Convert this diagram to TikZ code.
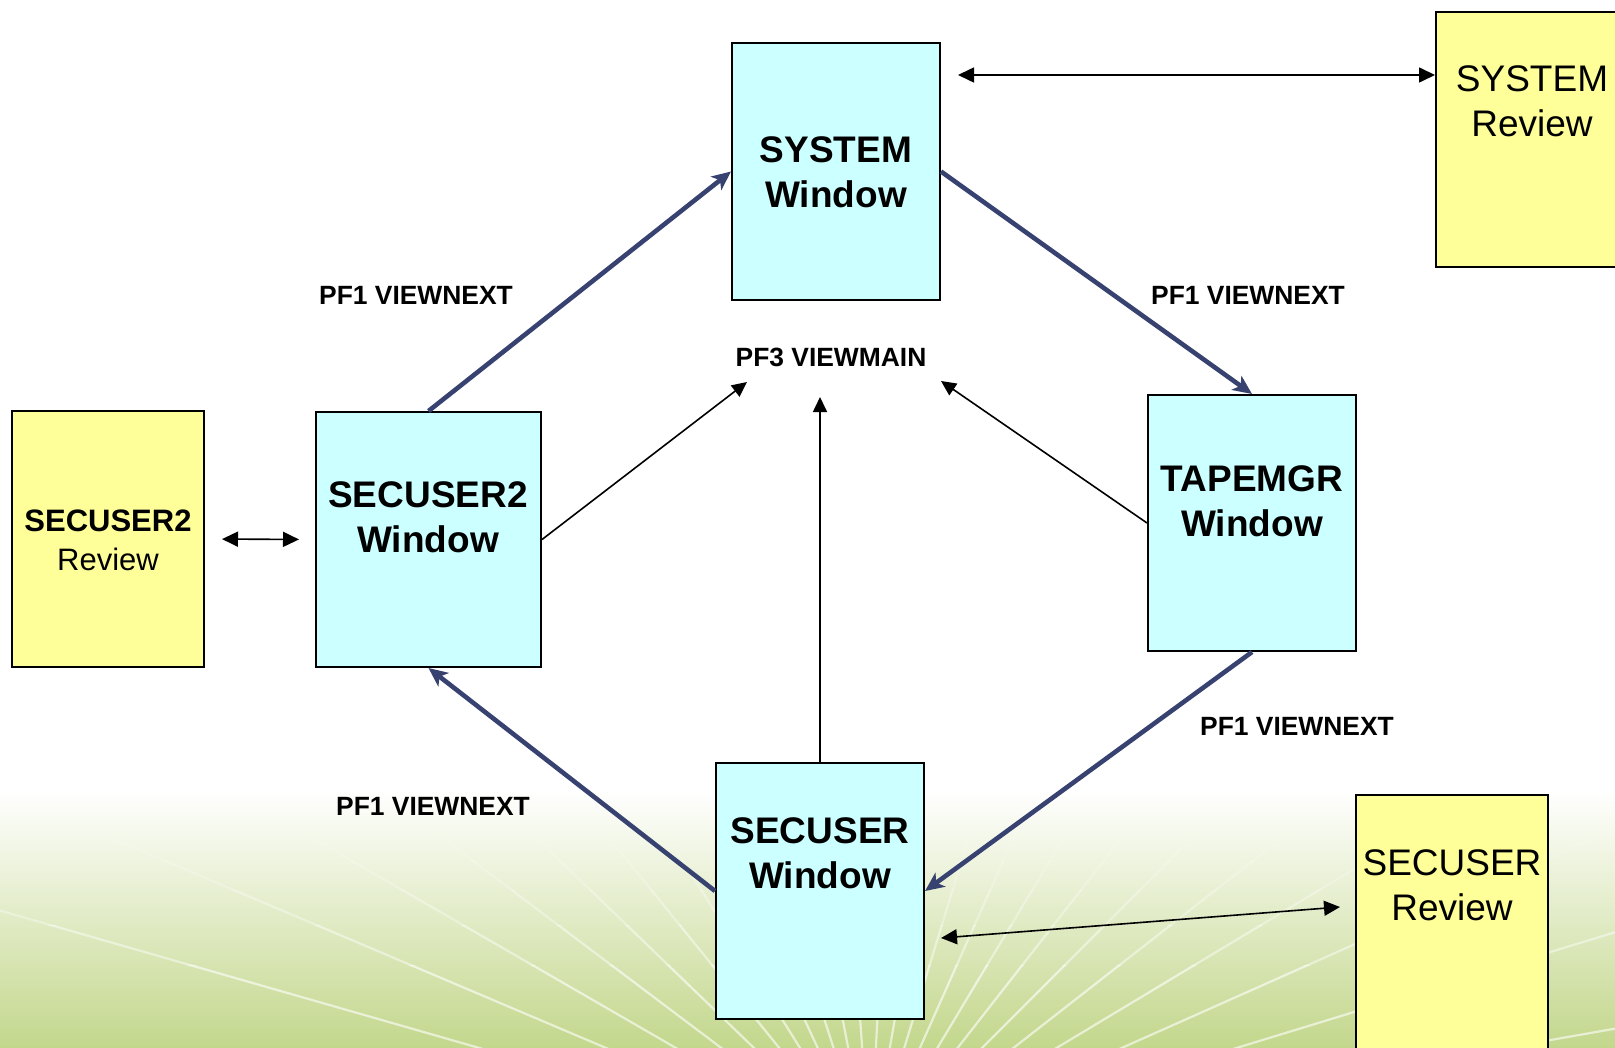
\documentclass[tikz,border=0pt]{standalone}
\usepackage{fontspec}
\setmainfont{Liberation Sans}
\usetikzlibrary{arrows.meta,calc}

\definecolor{wincyan}{HTML}{CCFFFF}
\definecolor{revyellow}{HTML}{FFFF99}
\definecolor{flowblue}{RGB}{55,66,112}
\definecolor{meadow}{RGB}{195,215,140}

\tikzset{
  box/.style={draw=black, line width=1pt, inner sep=0pt},
  winbox/.style={box, fill=wincyan},
  revbox/.style={box, fill=revyellow},
  wintext/.style={font=\bfseries\fontsize{18.5}{22.5}\selectfont, align=center, inner sep=0pt},
  revtext/.style={font=\fontsize{18.5}{22.5}\selectfont, align=center, inner sep=0pt},
  keylabel/.style={font=\bfseries\fontsize{13.2}{15}\selectfont, inner sep=0pt},
  flow/.style={draw=flowblue, line width=2.3pt, -{Stealth[length=9.5pt,width=8.5pt,inset=2.5pt]}},
  jump/.style={draw=black, line width=0.8pt, -{Triangle[length=7.5pt,width=7pt]}},
  swap/.style={draw=black, line width=0.8pt, {Triangle[length=8pt,width=7.5pt]}-{Triangle[length=8pt,width=7.5pt]}},
  ray/.style={draw=white, line width=1.1pt},
}

\begin{document}
\begin{tikzpicture}[x=0.5pt,y=-0.5pt]
\useasboundingbox (0,0) rectangle (1615,1048);
\fill[white] (0,0) rectangle (1615,1048);

% green backdrop with a fan of light rays that fade out upwards
\shade[top color=white, bottom color=meadow] (0,790) rectangle (1615,1048);
\foreach \ytop/\ybot/\op in {830/860/0.12, 860/890/0.22, 890/925/0.34, 925/965/0.46, 965/1048/0.6}{
  \begin{scope}
    \clip (0,\ytop) rectangle (1615,\ybot);
    \foreach \a in {10,17,...,170}
      \draw[ray, opacity=\op] (870,1160) -- ++(-\a:1100);
  \end{scope}
}

% window and review boxes
\node[winbox, minimum width=104pt, minimum height=128.5pt] (sysw) at (836,171.5) {};
\node[revbox, minimum width=96pt, minimum height=127.5pt] (sysr) at (1532,139.5) {};
\node[winbox, minimum width=112.5pt, minimum height=127.5pt] (s2w) at (428.5,539.5) {};
\node[revbox, minimum width=96pt, minimum height=128pt] (s2r) at (108,539) {};
\node[winbox, minimum width=104pt, minimum height=128pt] (tw) at (1252,523) {};
\node[winbox, minimum width=104pt, minimum height=128pt] (sw) at (820,891) {};
\node[revbox, minimum width=96pt, minimum height=128pt] (sr) at (1452,923) {};

% box captions
\node[wintext] (syswt) at (836,172.5) {SYSTEM\\Window};
\node[wintext] (s2wt) at (428,517.5) {SECUSER2\\Window};
\node[wintext] (twt) at (1252,501.5) {TAPEMGR\\Window};
\node[wintext] (swt) at (820,853) {SECUSER\\Window};
\node[revtext] (sysrt) at (1532,101.5) {SYSTEM\\Review};
\node[revtext] (srt) at (1452,885.5) {SECUSER\\Review};
\node[font=\fontsize{15.5}{19.5}\selectfont, align=center, inner sep=0pt] (s2rt) at (108,540.5) {\textbf{SECUSER2}\\Review};

% key labels
\node[keylabel] (k1) at (416,295) {PF1 VIEWNEXT};
\node[keylabel] (k2) at (1248,295) {PF1 VIEWNEXT};
\node[keylabel] (k3) at (831,357) {PF3 VIEWMAIN};
\node[keylabel] (k4) at (433,806) {PF1 VIEWNEXT};
\node[keylabel] (k5) at (1297,726) {PF1 VIEWNEXT};

% PF1 cycle between windows
\draw[flow] (s2w.north) -- (sysw.west);
\draw[flow] (sysw.east) -- (tw.north);
\draw[flow] (tw.south) -- (sw.east);
\draw[flow] (sw.west) -- (s2w.south);

% PF3 returns to the main view
\coordinate (m1) at (747,382);
\coordinate (m2) at (820,397);
\coordinate (m3) at (941,381);
\draw[jump] (s2w.east) -- (m1);
\draw[jump] (sw.north) -- (m2);
\draw[jump] (tw.west) -- (m3);

% window <-> review links
\coordinate (r1) at (958,75);
\draw[swap] (r1) -- (r1 -| sysr.west);
\draw[swap, shorten <=8.5pt, shorten >=8pt] (s2r.east) -- (s2w.west);
\coordinate (r2a) at (941,938);
\coordinate (r2b) at (1340,907);
\draw[swap] (r2a) -- (r2b);
\end{tikzpicture}
\end{document}
